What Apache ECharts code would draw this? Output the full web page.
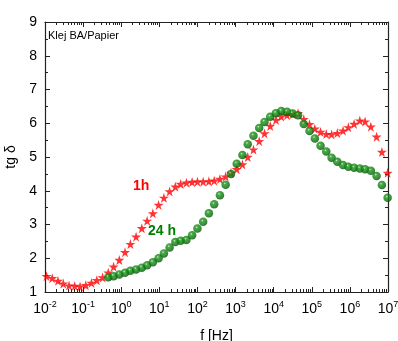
<!DOCTYPE html>
<html>
<head>
<meta charset="utf-8">
<script src="https://cdn.jsdelivr.net/npm/echarts@6/dist/echarts.min.js"></script>
<style>
  html, body { margin: 0; padding: 0; background: #ffffff; }
  #chart { width: 398px; height: 341px; }
</style>
</head>
<body>
<div id="chart"></div>
<script>
// log10 of frequency for each measured point
const logFreq = [
  -1.96, -1.81, -1.66, -1.52, -1.37, -1.22, -1.08, -0.93, -0.78, -0.64,
  -0.49, -0.34, -0.20, -0.05, 0.10, 0.24, 0.39, 0.54, 0.68, 0.83,
  0.98, 1.12, 1.27, 1.42, 1.56, 1.71, 1.86, 2.00, 2.15, 2.30,
  2.44, 2.59, 2.74, 2.88, 3.03, 3.18, 3.32, 3.47, 3.62, 3.76,
  3.91, 4.06, 4.20, 4.35, 4.50, 4.64, 4.79, 4.94, 5.08, 5.23,
  5.38, 5.52, 5.67, 5.82, 5.96, 6.11, 6.26, 6.40, 6.55, 6.70,
  6.84, 6.99
];

// tg delta, 1h (red stars)
const tgDelta1h = [
  1.47, 1.41, 1.33, 1.25, 1.19, 1.18, 1.16, 1.20, 1.27, 1.35,
  1.43, 1.57, 1.75, 1.95, 2.18, 2.42, 2.64, 2.89, 3.11, 3.33,
  3.58, 3.79, 3.98, 4.12, 4.20, 4.24, 4.26, 4.27, 4.27, 4.28,
  4.30, 4.35, 4.42, 4.53, 4.64, 4.78, 5.00, 5.22, 5.47, 5.70,
  5.92, 6.10, 6.20, 6.24, 6.27, 6.30, 6.12, 5.97, 5.84, 5.74,
  5.68, 5.67, 5.71, 5.78, 5.88, 5.98, 6.08, 6.05, 5.90, 5.60,
  5.15, 4.53
];

// tg delta, 24 h (green balls) - starts at the 12th frequency
const tgDelta24h = [
  null, null, null, null, null, null, null, null, null, null,
  null, 1.44, 1.47, 1.52, 1.57, 1.63, 1.67, 1.72, 1.79, 1.88,
  2.00, 2.14, 2.32, 2.48, 2.52, 2.54, 2.68, 2.88, 3.08, 3.33,
  3.60, 3.87, 4.18, 4.50, 4.80, 5.06, 5.38, 5.63, 5.86, 6.04,
  6.19, 6.30, 6.36, 6.34, 6.29, 6.24, 5.98, 5.77, 5.55, 5.33,
  5.16, 4.98, 4.86, 4.76, 4.71, 4.68, 4.66, 4.64, 4.59, 4.44,
  4.17, 3.79
];

const yTicks = [1, 2, 3, 4, 5, 6, 7, 8, 9];

const starPath = 'path://M50,0 L61,35 L98,35 L68,57 L79,91 L50,70 L21,91 L32,57 L2,35 L39,35 Z';
const fontFamily = 'Arial, "Liberation Sans", sans-serif';
const axisColor = '#222222';

const toPoints = (vals) => logFreq
  .map((e, i) => [Math.pow(10, e), vals[i]])
  .filter(p => p[1] !== null);

const chart = echarts.init(document.getElementById('chart'), null, { renderer: 'canvas' });

const xAxisBase = {
  type: 'log',
  logBase: 10,
  min: 0.01,
  max: 1e7,
  splitNumber: 9,
  axisLine: { show: true, lineStyle: { color: axisColor, width: 1.2 } },
  axisTick: { show: true, inside: true, length: 5, lineStyle: { color: axisColor } },
  minorTick: { show: true, splitNumber: 9, length: 3, lineStyle: { color: axisColor } },
  splitLine: { show: false }
};

const yAxisBase = {
  type: 'value',
  min: yTicks[0],
  max: yTicks[yTicks.length - 1],
  interval: 1,
  axisLine: { show: true, lineStyle: { color: axisColor, width: 1.2 } },
  axisTick: { show: true, inside: true, length: 5, lineStyle: { color: axisColor } },
  minorTick: { show: true, splitNumber: 2, length: 3, lineStyle: { color: axisColor } },
  splitLine: { show: false }
};

const option = {
  animation: false,
  backgroundColor: '#ffffff',
  grid: { left: 45, right: 10, top: 22, bottom: 49, outerBoundsMode: 'none', containLabel: false },
  xAxis: [
    Object.assign({}, xAxisBase, {
      position: 'bottom',
      name: 'f [Hz]',
      nameLocation: 'middle',
      nameGap: 37,
      nameTextStyle: { fontFamily: fontFamily, fontSize: 14, color: '#000' },
      axisLabel: {
        margin: 8,
        formatter: (v) => '{b|10}{s|' + Math.round(Math.log10(v)) + '}',
        rich: {
          b: { fontFamily: fontFamily, fontSize: 14, color: '#000' },
          s: { fontFamily: fontFamily, fontSize: 9, color: '#000', verticalAlign: 'top', padding: [0, 0, 9, 0] }
        }
      }
    }),
    Object.assign({}, xAxisBase, {
      position: 'top',
      axisLabel: { show: false }
    })
  ],
  yAxis: [
    Object.assign({}, yAxisBase, {
      position: 'left',
      name: 'tg δ',
      nameLocation: 'middle',
      nameGap: 25,
      nameRotate: 90,
      nameTextStyle: { fontFamily: fontFamily, fontSize: 14, color: '#000' },
      axisLabel: { margin: 8, fontFamily: fontFamily, fontSize: 14, color: '#000' }
    }),
    Object.assign({}, yAxisBase, {
      position: 'right',
      axisLabel: { show: false }
    })
  ],
  graphic: [
    {
      type: 'text', left: 48, top: 30,
      style: { text: 'Klej BA/Papier', fontFamily: fontFamily, fontSize: 11, fill: '#000' }
    },
    {
      type: 'text', left: 133, top: 179,
      style: { text: '1h', fontFamily: fontFamily, fontSize: 14, fontWeight: 'bold', fill: '#ff0000' }
    },
    {
      type: 'text', left: 148, top: 224,
      style: { text: '24 h', fontFamily: fontFamily, fontSize: 14, fontWeight: 'bold', fill: '#008000' }
    }
  ],
  series: [
    {
      name: '1h',
      type: 'scatter',
      data: toPoints(tgDelta1h),
      symbol: starPath,
      symbolSize: 10,
      itemStyle: { color: '#ff0000' }
    },
    {
      name: '24 h',
      type: 'scatter',
      data: toPoints(tgDelta24h),
      symbol: 'circle',
      symbolSize: 8.5,
      itemStyle: {
        color: {
          type: 'radial', x: 0.4, y: 0.35, r: 0.65,
          colorStops: [
            { offset: 0, color: '#d0ecd0' },
            { offset: 0.22, color: '#1f961f' },
            { offset: 0.75, color: '#067406' },
            { offset: 1, color: '#044c04' }
          ]
        }
      }
    }
  ]
};

chart.setOption(option);
</script>
</body>
</html>
